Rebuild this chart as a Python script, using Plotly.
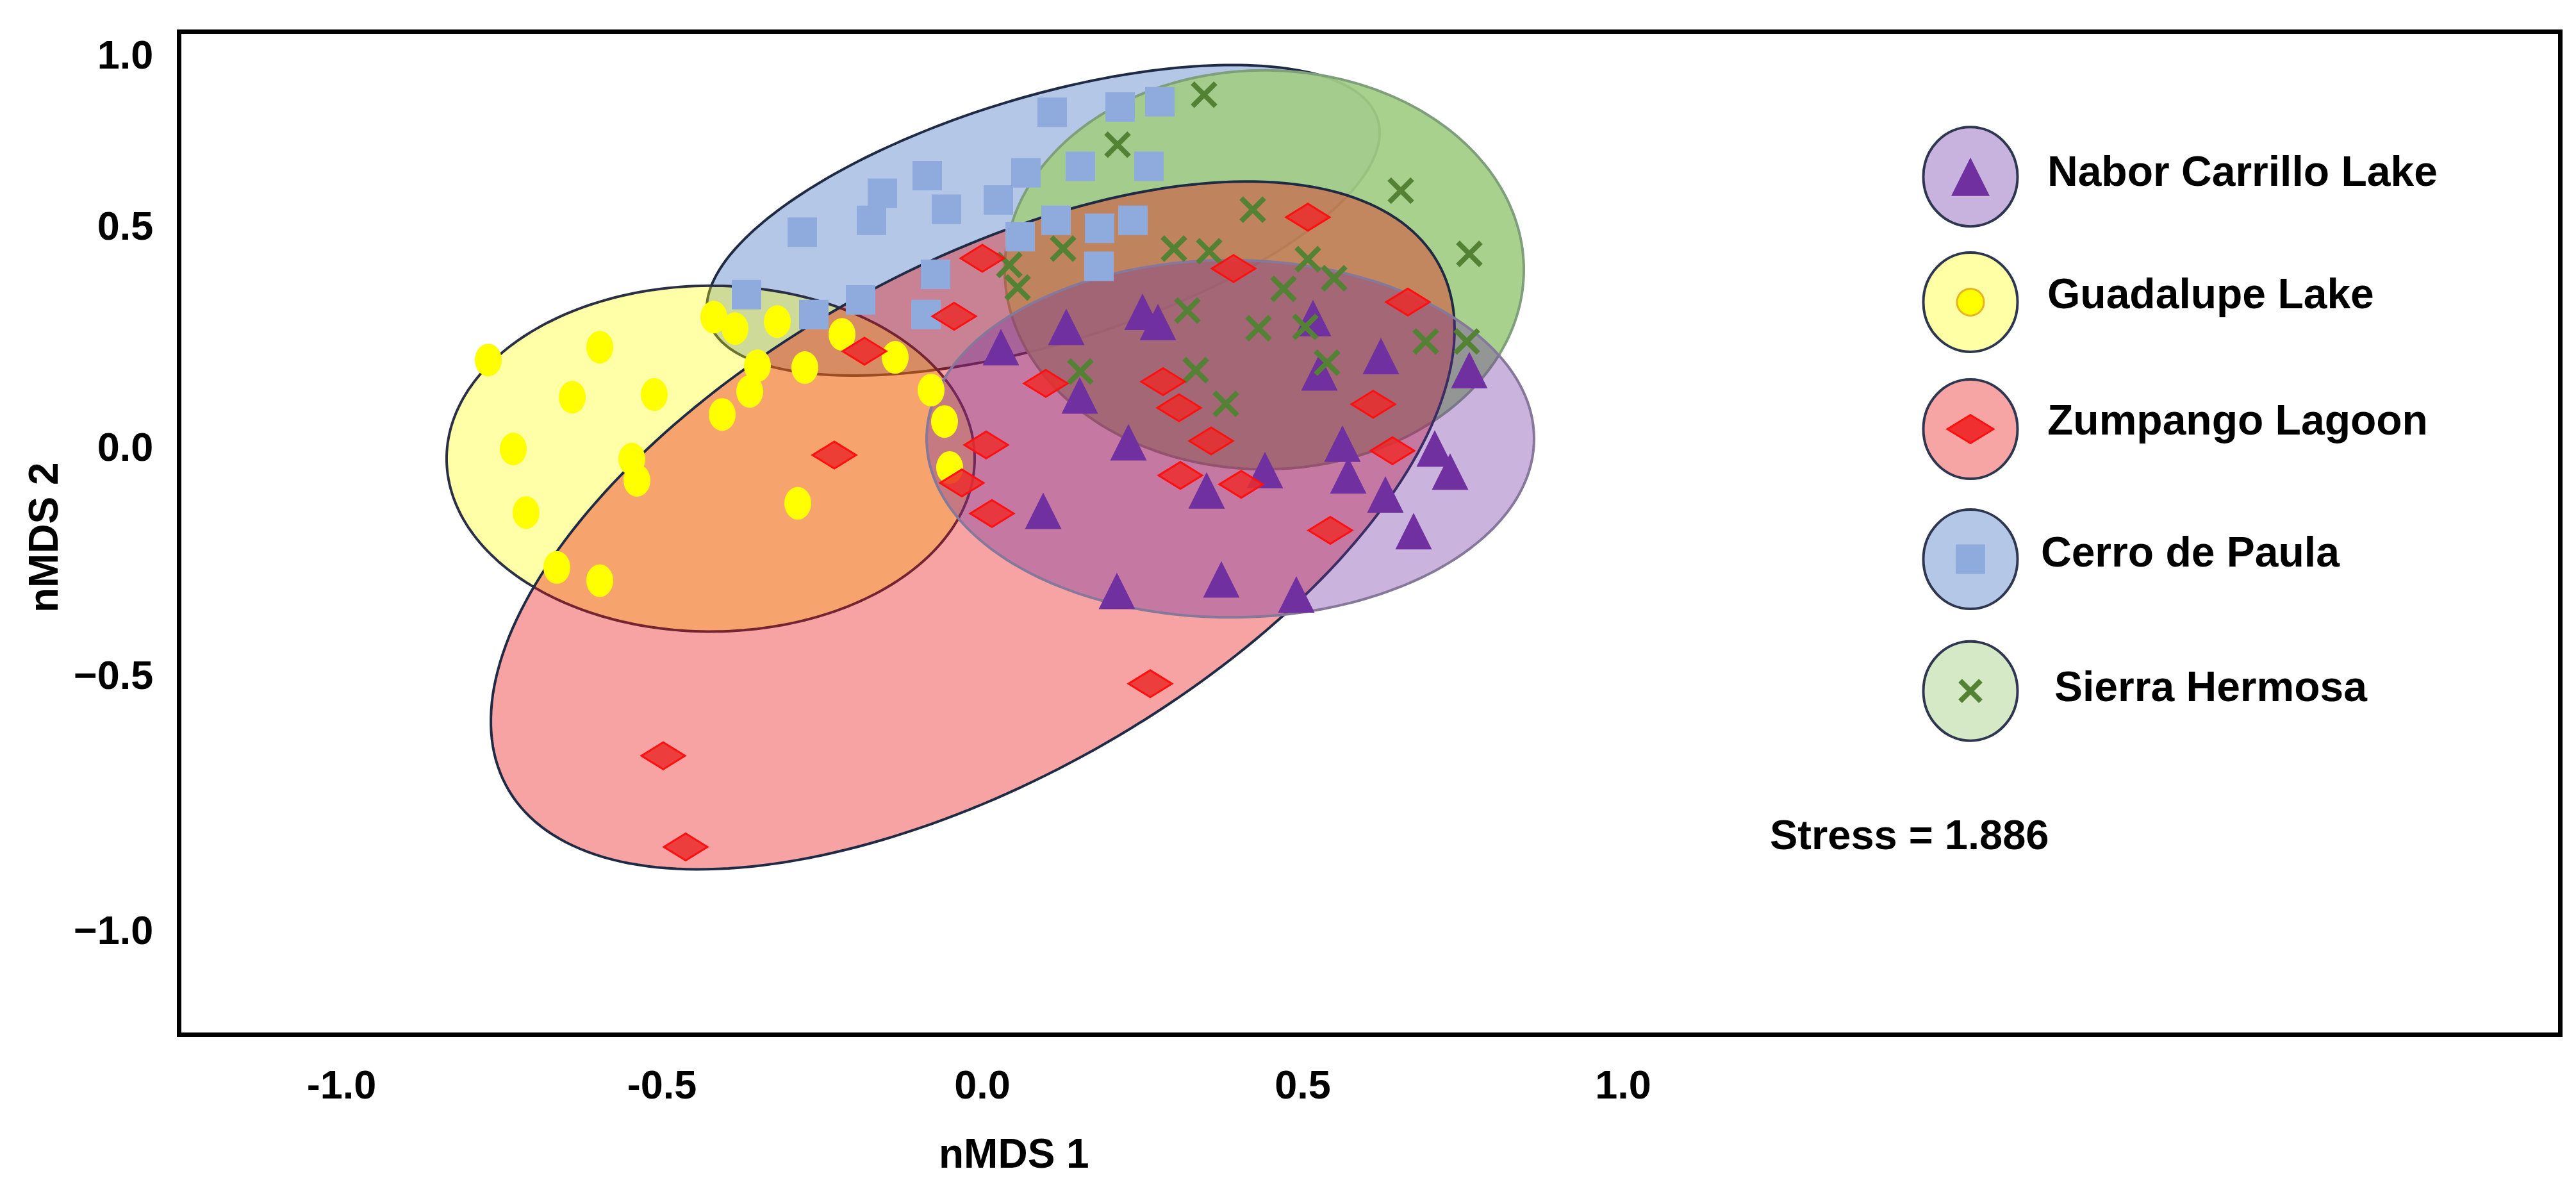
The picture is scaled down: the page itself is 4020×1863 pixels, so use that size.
import numpy as np
import plotly.graph_objects as go

FONT = "Liberation Sans, Arial, sans-serif"

# ================= data =================
sites = ["Nabor Carrillo Lake", "Guadalupe Lake", "Zumpango Lagoon", "Cerro de Paula", "Sierra Hermosa"]

nabor_x = [0.029, 0.131, 0.250, 0.274, 0.516, 0.622, 0.526, 0.760, 0.152, 0.228, 0.562,
           0.706, 0.441, 0.571, 0.730, 0.350, 0.629, 0.673, 0.095, 0.210, 0.373, 0.490]
nabor_y = [0.225, 0.271, 0.305, 0.282, 0.291, 0.205, 0.168, 0.173, 0.116, 0.010, 0.007,
           -0.004, -0.053, -0.065, -0.056, -0.099, -0.108, -0.191, -0.145, -0.326, -0.300, -0.334]

guad_x = [-0.771, -0.597, -0.640, -0.512, -0.732, -0.547, -0.539, -0.712, -0.664, -0.597, -0.419, -0.386,
          -0.320, -0.351, -0.363, -0.406, -0.277, -0.219, -0.136, -0.080, -0.059, -0.051, -0.288]
guad_y = [0.196, 0.225, 0.112, 0.118, -0.005, -0.028, -0.076, -0.149, -0.273, -0.303, 0.293, 0.267,
          0.283, 0.183, 0.125, 0.073, 0.179, 0.254, 0.202, 0.128, 0.057, -0.047, -0.128]

zump_x = [0.000, -0.044, -0.184, 0.099, 0.282, 0.307, 0.392, 0.508, 0.664, 0.610, 0.640,
          0.357, 0.309, 0.404, 0.006, -0.231, -0.032, 0.015, 0.543, 0.262, -0.498, -0.463]
zump_y = [0.426, 0.295, 0.216, 0.143, 0.147, 0.088, 0.403, 0.519, 0.327, 0.096, -0.009,
          0.013, -0.065, -0.085, 0.004, -0.019, -0.082, -0.151, -0.189, -0.536, -0.699, -0.905]

cerro_x = [0.109, 0.215, 0.277, 0.153, 0.260, -0.086, 0.068, -0.156, -0.056, 0.025, -0.173,
           -0.281, 0.115, 0.059, 0.183, 0.235, 0.182, -0.073, -0.088, -0.190, -0.263, -0.368]
cerro_y = [0.756, 0.768, 0.780, 0.634, 0.634, 0.613, 0.619, 0.573, 0.537, 0.558, 0.512,
           0.485, 0.512, 0.475, 0.494, 0.512, 0.408, 0.390, 0.299, 0.332, 0.299, 0.344]

sierra_x = [0.346, 0.211, 0.653, 0.422, 0.760, 0.126, 0.299, 0.354, 0.508, 0.549, 0.470,
            0.042, 0.055, 0.320, 0.431, 0.504, 0.692, 0.756, 0.538, 0.153, 0.333, 0.380]
sierra_y = [0.796, 0.683, 0.579, 0.536, 0.436, 0.448, 0.448, 0.442, 0.424, 0.381, 0.357,
            0.411, 0.360, 0.308, 0.268, 0.271, 0.238, 0.238, 0.190, 0.170, 0.173, 0.097]

# group ellipses: centre + two conjugate semi-axes (nMDS units), same order as sites
ell_cx = [0.387, -0.424, -0.015, 0.095, 0.440]
ell_cy = [0.018, -0.027, -0.178, 0.512, 0.400]
ell_ax = [0.474, 0.412, 0.726, 0.525, 0.405]
ell_ay = [0.000, 0.000, 0.594, 0.198, 0.000]
ell_bx = [0.000, 0.000, -0.196, 0.000, 0.000]
ell_by = [0.404, 0.391, 0.502, 0.290, 0.451]

# ticks as printed on the original figure
x_tickvals = [-1.0, -0.5, 0.0, 0.5, 1.0]
x_ticktext = ["-1.0", "-0.5", "0.0", "0.5", "1.0"]
y_tickvals = [0.887, 0.5, 0.0, -0.516, -1.093]
y_ticktext = ["1.0", "0.5", "0.0", "\u22120.5", "\u22121.0"]

stress = 1.886

# ================= style =================
ell_fill = ["rgba(112,48,160,0.37)", "rgba(255,255,0,0.34)", "rgba(234,19,19,0.39)",
            "rgba(68,114,196,0.40)", "rgba(162,205,133,0.93)"]
ell_line = ["#85789A", "#2A2F45", "#1F2A44", "#1F2A44", "#7F9F7A"]
draw_order = [3, 4, 1, 2, 0]   # blue, green, yellow, red, purple

legend_fill = ["#C7B3DD", "#FFFFA6", "#F6A4A4", "#B4C7E7", "#D6E9C6"]

PLOT_L, PLOT_R, PLOT_T, PLOT_B = 275, 3984, 45, 1603


def paper_x(px):
    return (px - PLOT_L) / (PLOT_R - PLOT_L)


def paper_y(py):
    return (PLOT_B - py) / (PLOT_B - PLOT_T)


def ellipse_path(cx, cy, ax, ay, bx, by, n=240):
    t = np.linspace(0, 2 * np.pi, n)
    xs = cx + ax * np.cos(t) + bx * np.sin(t)
    ys = cy + ay * np.cos(t) + by * np.sin(t)
    return "M " + " L ".join(f"{x:.4f},{y:.4f}" for x, y in zip(xs, ys)) + " Z"


def diamond_px(hw, hh):
    # flat diamond outline, in pixels around its anchor
    return f"M {-hw},0 L 0,{hh} L {hw},0 L 0,{-hh} Z"


shapes = []
for i in draw_order:
    shapes.append(dict(type="path", xref="x", yref="y", layer="between",
                       path=ellipse_path(ell_cx[i], ell_cy[i], ell_ax[i], ell_ay[i], ell_bx[i], ell_by[i]),
                       fillcolor=ell_fill[i], line=dict(color=ell_line[i], width=4)))

# Guadalupe points are small upright ovals
for gx, gy in zip(guad_x, guad_y):
    shapes.append(dict(type="circle", xref="x", yref="y", layer="between",
                       xsizemode="pixel", ysizemode="pixel", xanchor=gx, yanchor=gy,
                       x0=-21, x1=21, y0=-25.5, y1=25.5,
                       fillcolor="#FFFF00", line=dict(width=0)))

# Zumpango points are flat diamonds
for zx, zy in zip(zump_x, zump_y):
    shapes.append(dict(type="path", xref="x", yref="y", layer="above",
                       xsizemode="pixel", ysizemode="pixel", xanchor=zx, yanchor=zy,
                       path=diamond_px(34, 21),
                       fillcolor="rgba(235,45,45,0.85)", line=dict(color="#FF1010", width=3)))

# legend bubbles
leg_cy = [267.7, 463.4, 661.5, 864.6, 1070.2]
leg_cx = 3067
for i in range(5):
    shapes.append(dict(type="circle", xref="paper", yref="paper", layer="between",
                       xsizemode="pixel", ysizemode="pixel",
                       xanchor=paper_x(leg_cx), yanchor=paper_y(leg_cy[i]),
                       x0=-73.5, x1=73.5, y0=-77.5, y1=77.5,
                       fillcolor=legend_fill[i], line=dict(color="#2E3650", width=4)))
shapes.append(dict(type="path", xref="paper", yref="paper", layer="above",
                   xsizemode="pixel", ysizemode="pixel",
                   xanchor=paper_x(leg_cx), yanchor=paper_y(leg_cy[2]),
                   path=diamond_px(36, 22), fillcolor="#F03030", line=dict(color="#FF1010", width=3)))

fig = go.Figure()

tri = dict(symbol="arrow-down", angle=180, standoff=28.5, size=57, color="#7030A0", line=dict(width=0))
sq = dict(symbol="square", size=46, color="#8FAADC", line=dict(width=0))
ex = dict(symbol="x-thin", size=36, color="#548235", line=dict(color="#548235", width=8))

fig.add_trace(go.Scatter(x=nabor_x, y=nabor_y, mode="markers", marker=tri, name=sites[0]))
fig.add_trace(go.Scatter(x=cerro_x, y=cerro_y, mode="markers", marker=sq, name=sites[3]))
fig.add_trace(go.Scatter(x=sierra_x, y=sierra_y, mode="markers", marker=ex, name=sites[4]))

# legend symbols on an overlay axis in plot fractions
leg_px = [paper_x(leg_cx)] * 5
leg_py = [paper_y(v) for v in leg_cy]
leg_markers = {
    0: dict(symbol="arrow-down", angle=180, standoff=30, size=60, color="#7030A0", line=dict(width=0)),
    1: dict(symbol="circle", size=42, color="#FFFF00", line=dict(color="#E6B422", width=3)),
    3: dict(symbol="square", size=46, color="#8FAADC", line=dict(width=0)),
    4: dict(symbol="x-thin", size=32, color="#548235", line=dict(color="#548235", width=8)),
}
for i, mk in leg_markers.items():
    fig.add_trace(go.Scatter(x=[leg_px[i]], y=[leg_py[i]], mode="markers", marker=mk,
                             xaxis="x2", yaxis="y2", hoverinfo="skip"))

leg_text_x = [3185, 3185, 3185, 3175, 3196]
leg_text_y = [259, 450, 647, 853, 1063]
annotations = []
for i in range(5):
    annotations.append(dict(text=sites[i], x=paper_x(leg_text_x[i]), y=paper_y(leg_text_y[i]),
                            xref="paper", yref="paper", xanchor="left", yanchor="middle", showarrow=False,
                            font=dict(family=FONT, size=66, color="black", weight="bold")))
annotations.append(dict(text=f"Stress = {stress}", x=paper_x(2752), y=paper_y(1294),
                        xref="paper", yref="paper", xanchor="left", yanchor="middle", showarrow=False,
                        font=dict(family=FONT, size=65, color="black", weight="bold")))
annotations.append(dict(text="nMDS 1", x=paper_x(1574), y=paper_y(1792), xref="paper", yref="paper",
                        xanchor="center", yanchor="middle", showarrow=False,
                        font=dict(family=FONT, size=64, color="black", weight="bold")))
annotations.append(dict(text="nMDS 2", x=paper_x(60), y=paper_y(831), xref="paper", yref="paper",
                        xanchor="center", yanchor="middle", showarrow=False, textangle=-90,
                        font=dict(family=FONT, size=64, color="black", weight="bold")))

tickfont = dict(family=FONT, size=63, color="black", weight="bold")

fig.update_layout(
    width=4020, height=1863,
    margin=dict(l=PLOT_L, r=4020 - PLOT_R, t=PLOT_T, b=1863 - PLOT_B),
    paper_bgcolor="white", plot_bgcolor="white",
    showlegend=False,
    shapes=shapes,
    annotations=annotations,
    xaxis=dict(range=[-1.25, 2.459], tickvals=x_tickvals, ticktext=x_ticktext, tickfont=tickfont,
               showgrid=False, zeroline=False, showline=True, linecolor="black", linewidth=7, mirror=True,
               ticks="", ticklabelstandoff=20),
    yaxis=dict(range=[-1.3246, 0.9333], tickvals=y_tickvals, ticktext=y_ticktext, tickfont=tickfont,
               showgrid=False, zeroline=False, showline=True, linecolor="black", linewidth=7, mirror=True,
               ticks="", ticklabelstandoff=24),
    xaxis2=dict(overlaying="x", range=[0, 1], visible=False),
    yaxis2=dict(overlaying="y", range=[0, 1], visible=False),
)

fig.write_html("out.html")
